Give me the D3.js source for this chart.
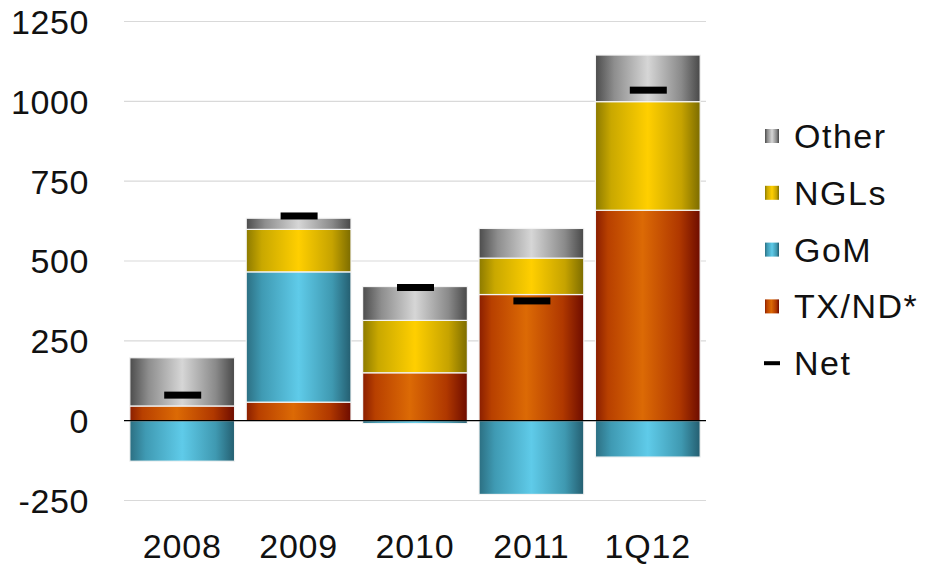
<!DOCTYPE html>
<html><head><meta charset="utf-8">
<script src="https://cdn.jsdelivr.net/npm/d3@7/dist/d3.min.js"></script>
<style>body{margin:0;background:#fff}svg{display:block}text{font-family:"Liberation Sans",Arial,sans-serif}</style>
</head><body><svg id="c" width="930" height="565"></svg>
<script>
const categories = ["2008","2009","2010","2011","1Q12"];
const txnd  = [46, 58, 150, 395, 659];
const gom   = [-127, 408, -9, -231, -114];
const ngls  = [0, 133, 164, 114, 340];
const other = [151, 35, 106, 93, 146];
const net   = [80, 641, 417, 375, 1035];
const yTicks = [-250, 0, 250, 500, 750, 1000, 1250];
const seriesNames = ["TX/ND*", "GoM", "NGLs", "Other"];
const legendNames = ["Other", "NGLs", "GoM", "TX/ND*", "Net"];

const svg = d3.select("#c");
const x = d3.scaleBand().domain(categories).range([124, 706]).paddingInner(0.1).paddingOuter(0.05);
const y = d3.scaleLinear().domain([-250, 1250]).range([500.5, 21.5]);

const defs = svg.append("defs");
const grads = {
  "TX/ND*": [["0%","#8a1e00"],["12%","#b84000"],["45%","#dc6a05"],["80%","#b03800"],["100%","#6e0c00"]],
  "GoM":    [["0%","#2c6f82"],["15%","#3f9ab3"],["50%","#5fcbe9"],["82%","#3f99b1"],["100%","#245e70"]],
  "NGLs":   [["0%","#8c7a00"],["15%","#c9a800"],["50%","#ffcf00"],["82%","#c6a300"],["100%","#7c6c00"]],
  "Other":  [["0%","#4c4c4c"],["18%","#8e8e8e"],["50%","#d6d6d6"],["82%","#8a8a8a"],["100%","#484848"]]
};
const gid = {};
Object.entries(grads).forEach(([k, stops], i) => {
  const g = defs.append("linearGradient").attr("id", "g" + i).attr("x1", 0).attr("x2", 1).attr("y1", 0).attr("y2", 0);
  stops.forEach(s => g.append("stop").attr("offset", s[0]).attr("stop-color", s[1]));
  gid[k] = "g" + i;
});

// gridlines
svg.append("g").selectAll("line").data(yTicks.filter(t => t !== 0)).join("line")
  .attr("x1", 124).attr("x2", 706).attr("y1", d => y(d)).attr("y2", d => y(d))
  .attr("stroke", "#d9d9d9").attr("stroke-width", 1.2);

// y axis labels
const yAxis = d3.axisLeft(y).tickValues(yTicks).tickFormat(d => String(d)).tickSize(0).tickPadding(0);
const ya = svg.append("g").attr("transform", "translate(89,0)").call(yAxis);
ya.select(".domain").remove();
ya.selectAll("text").attr("font-size", 34).attr("letter-spacing", 0.6).attr("fill", "#111")
  .attr("font-family", "Liberation Sans, Arial, sans-serif").attr("dy", "0.35em");

// stacked bars
const data = categories.map((c, i) => ({c, "TX/ND*": txnd[i], "GoM": gom[i], "NGLs": ngls[i], "Other": other[i]}));
const stack = d3.stack().keys(seriesNames).offset(d3.stackOffsetDiverging);
const layers = stack(data);
layers.forEach(layer => {
  svg.append("g").selectAll("rect").data(layer).join("rect")
    .attr("x", d => x(d.data.c))
    .attr("width", x.bandwidth())
    .attr("y", d => y(Math.max(d[0], d[1])))
    .attr("height", d => Math.abs(y(d[0]) - y(d[1])))
    .attr("fill", "url(#" + gid[layer.key] + ")")
    .attr("stroke", "#f4f4f4").attr("stroke-width", 1.2);
});

// zero line
svg.append("line").attr("x1", 124).attr("x2", 706).attr("y1", y(0)).attr("y2", y(0))
  .attr("stroke", "#000").attr("stroke-width", 1.3);

// net markers
svg.append("g").selectAll("rect").data(categories).join("rect")
  .attr("x", d => x(d) + x.bandwidth() / 2 - 18)
  .attr("width", 37)
  .attr("y", (d, i) => y(net[i]) - 3.5)
  .attr("height", 7)
  .attr("fill", "#000");

// x axis labels
const xAxis = d3.axisBottom(x).tickSize(0).tickPadding(0);
const xa = svg.append("g").attr("transform", "translate(0,558)").call(xAxis);
xa.select(".domain").remove();
xa.selectAll("text").attr("font-size", 34).attr("letter-spacing", 0.8).attr("fill", "#111")
  .attr("font-family", "Liberation Sans, Arial, sans-serif").attr("dy", "0em");

// legend
const lg = svg.append("g");
legendNames.forEach((n, i) => {
  const cy = 136 + i * 56.8;
  if (n === "Net") {
    lg.append("rect").attr("x", 764).attr("y", cy - 2).attr("width", 16).attr("height", 4).attr("fill", "#000");
  } else {
    lg.append("rect").attr("x", 765).attr("y", cy - 7).attr("width", 14).attr("height", 14)
      .attr("fill", "url(#" + gid[n] + ")");
  }
  lg.append("text").attr("x", 794).attr("y", cy).attr("dy", "0.35em")
    .attr("font-size", 34).attr("letter-spacing", 1.5).attr("fill", "#111").text(n);
});
</script></body></html>
